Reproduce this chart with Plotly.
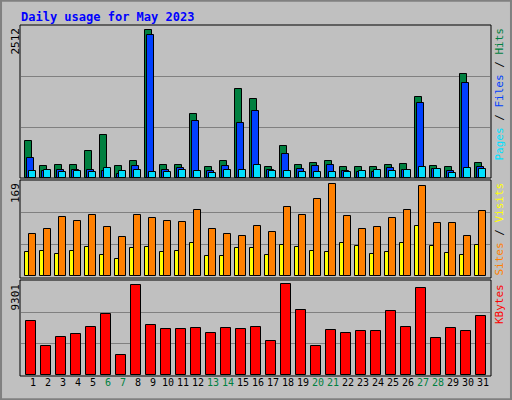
import plotly.graph_objects as go

days = list(range(1, 32))
weekend = [6, 7, 13, 14, 20, 21, 27, 28]

hits = [625, 210, 227, 227, 454, 738, 210, 295, 2512, 227, 227, 1079, 182, 295, 1505, 1335,
        193, 551, 227, 261, 295, 193, 193, 193, 227, 244, 1369, 210, 193, 1761, 261]
files = [335, 114, 130, 142, 130, 114, 62, 199, 2425, 130, 165, 966, 114, 199, 926, 1136,
         130, 415, 148, 199, 216, 114, 97, 97, 165, 130, 1267, 148, 114, 1607, 182]
pages = [114, 130, 97, 114, 97, 165, 114, 130, 97, 97, 130, 114, 80, 130, 130, 216,
         114, 114, 97, 97, 97, 97, 114, 130, 114, 130, 182, 148, 80, 165, 148]
visits = [77, 86, 108, 101, 112, 90, 71, 112, 106, 101, 99, 121, 86, 77, 73, 92,
          82, 127, 112, 141, 169, 110, 86, 90, 106, 121, 165, 97, 97, 73, 119]
sites = [45, 47, 40, 47, 53, 38, 31, 51, 53, 44, 47, 60, 36, 36, 51, 51,
         38, 58, 53, 47, 44, 60, 55, 40, 45, 60, 93, 55, 42, 38, 57]
kbytes = [5553, 2964, 3884, 4191, 4906, 6235, 2044, 9199, 5110, 4702, 4702, 4804, 4293, 4804, 4702, 4906,
          3475, 9301, 6644, 2964, 4600, 4293, 4497, 4497, 6541, 4906, 8892, 3782, 4804, 4497, 6030]

BG = "#c0c0c0"
FONT = "DejaVu Sans Mono"
edge = dict(color="black", width=1)

fig = go.Figure()

def bars(y, color, offset, width, axis):
    fig.add_trace(go.Bar(x=days, y=y, offset=offset, width=width,
                         marker=dict(color=color, line=edge),
                         xaxis="x", yaxis=axis, showlegend=False, hoverinfo="skip"))

bars(hits, "#008040", -0.38, 0.49, "y")
bars(files, "#0040ff", -0.25, 0.49, "y")
bars(pages, "#00e0ff", -0.11, 0.49, "y")
bars(sites, "#ffff00", -0.38, 0.27, "y2")
bars(visits, "#ff8000", -0.11, 0.49, "y2")
bars(kbytes, "#ff0000", -0.33, 0.71, "y3")

top_max = max(hits) * 153 / 148
mid_max = max(visits) * 95 / 91.7
bot_max = max(kbytes) * 94.3 / 91

ticktext = [f"<span style='color:#008040'>{d}</span>" if d in weekend else str(d) for d in days]

def yax(dom, rmax):
    return dict(domain=dom, range=[0, rmax], tick0=0, dtick=rmax / 3, showticklabels=False,
                showgrid=True, gridcolor="#808080", gridwidth=1, zeroline=False,
                showline=False, ticks="")

fig.update_layout(
    width=512, height=400,
    margin=dict(l=0, r=0, t=0, b=0),
    paper_bgcolor=BG, plot_bgcolor=BG,
    barmode="overlay", bargap=0,
    font=dict(family=FONT, size=11, color="black"),
    xaxis=dict(domain=[21 / 512, 490 / 512], range=[0.353, 31.62], anchor="y3",
               tickvals=[d + 0.15 for d in days], ticktext=ticktext, tickangle=0,
               automargin=False, showgrid=False, zeroline=False, ticks="",
               tickfont=dict(size=10)),
    yaxis=yax([1 - 178 / 400, 1 - 25 / 400], top_max),
    yaxis2=yax([1 - 276 / 400, 1 - 181 / 400], mid_max),
    yaxis3=yax([1 - 375 / 400, 1 - 281 / 400], bot_max),
)

# panel frames
for y0, y1 in [(25, 178), (180, 278), (280, 376)]:
    fig.add_shape(type="rect", xref="paper", yref="paper",
                  x0=20 / 512, x1=491 / 512, y0=1 - y1 / 400, y1=1 - y0 / 400,
                  line=dict(color="black", width=1), layer="above")
fig.add_shape(type="rect", xref="paper", yref="paper", x0=0.002, x1=0.998, y0=0.002, y1=0.998,
              line=dict(color="#808080", width=2))

fig.add_annotation(text="<b>Daily usage for May 2023</b>", xref="paper", yref="paper",
                   x=19 / 512, y=1 - 8 / 400, xanchor="left", yanchor="top", showarrow=False,
                   font=dict(family=FONT, size=12, color="#0000ff"))

for label, ytop in [("2512", 26), ("169", 181), ("9301", 282)]:
    fig.add_annotation(text=label, xref="paper", yref="paper", x=15 / 512, y=1 - ytop / 400,
                       xanchor="center", yanchor="top", textangle=-90, showarrow=False,
                       font=dict(family=FONT, size=11))

right = [
    ("<span style='color:#00e0ff'>Pages</span> / <span style='color:#0040ff'>Files</span>"
     " / <span style='color:#008040'>Hits</span>", 26),
    ("<span style='color:#ff8000'>Sites</span> / <span style='color:#ffff00'>Visits</span>", 181),
    ("<span style='color:#ff0000'>KBytes</span>", 282),
]
for label, ytop in right:
    fig.add_annotation(text=label, xref="paper", yref="paper", x=499 / 512, y=1 - ytop / 400,
                       xanchor="center", yanchor="top", textangle=-90, showarrow=False,
                       font=dict(family=FONT, size=11))

fig.write_html("out.html", config={"displayModeBar": False},
               post_script="document.body.style.margin='0';")
